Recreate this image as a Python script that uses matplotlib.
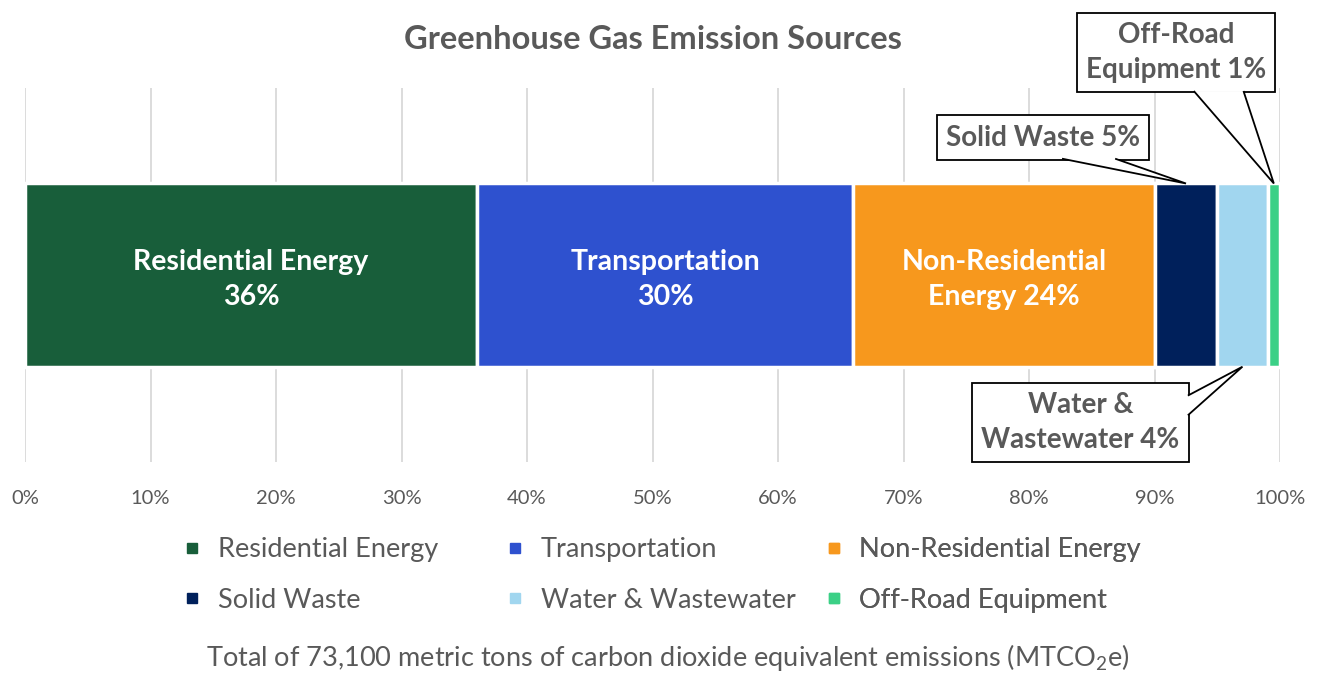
import matplotlib.pyplot as plt
from matplotlib.lines import Line2D
from matplotlib.patches import Polygon
from matplotlib.transforms import IdentityTransform

plt.rcParams['font.family'] = ['Lato', 'DejaVu Sans']
plt.rcParams['mathtext.fontset'] = 'custom'
plt.rcParams['mathtext.rm'] = 'Lato'

# emission share by source (%)
sources = ['Residential Energy', 'Transportation', 'Non-Residential Energy',
           'Solid Waste', 'Water & Wastewater', 'Off-Road Equipment']
shares = [36, 30, 24, 5, 4, 1]
colors = ['#185E3A', '#2E51CF', '#F7981D', '#00205B', '#A1D6EF', '#3BD086']
inside_labels = ['Residential Energy\n36%', 'Transportation\n30%', 'Non-Residential\nEnergy 24%']
callout_labels = ['Solid Waste 5%', 'Water &\nWastewater 4%', 'Off-Road\nEquipment 1%']
total_tons = '73,100'

gray = '#595959'

fig = plt.figure(figsize=(13.17, 6.73), dpi=100)
ax = fig.add_axes([0.019, 0.3135, 0.953, 0.5555])

left = 0
bars = []
for name, val, c in zip(sources, shares, colors):
    b = ax.barh(0, val, left=left, height=0.49, color=c, edgecolor='white',
                linewidth=2.5, label=name, zorder=3)
    bars.append(b[0])
    left += val

# labels inside the three big segments
for rect, txt in zip(bars[:3], inside_labels):
    ax.text(rect.get_x() + rect.get_width() / 2, -0.012, txt, ha='center', va='center',
            color='white', fontsize=20.5, fontweight='bold', linespacing=1.45, zorder=4)

# callout boxes for the small segments
# (segment, text, box centre, bar side pointed at, box side the wedge leaves from)
box = dict(boxstyle='square,pad=0.33', fc='white', ec='black', lw=1.3)
callouts = [(bars[3], callout_labels[0], (81.1, 0.368), 'top', 'bottom'),
            (bars[4], callout_labels[1], (84.1, -0.394), 'bottom', 'right'),
            (bars[5], callout_labels[2], (91.7, 0.595), 'top', 'bottom')]
texts = []
for rect, txt, pos, side, edge in callouts:
    t = ax.text(pos[0], pos[1], txt, ha='center', va='center', multialignment='center',
                fontsize=20, fontweight='bold', color=gray, bbox=box,
                linespacing=1.4, clip_on=False, zorder=6)
    texts.append(t)

ax.set_xlim(0, 100)
ax.set_ylim(-0.5, 0.5)
ax.set_xticks(range(0, 101, 10))
ax.set_xticklabels([f'{t}%' for t in range(0, 101, 10)])
ax.set_yticks([])
ax.tick_params(axis='x', length=0, labelsize=14.5, labelcolor=gray, pad=20)
ax.grid(axis='x', color='#D9D9D9', lw=1.3, zorder=0)
for s in ax.spines.values():
    s.set_visible(False)

ax.set_title('Greenhouse Gas Emission Sources', fontsize=23.5, fontweight='bold',
             color=gray, pad=28)

# wedge pointers: open triangle from the box edge to the segment, drawn over the box
fig.canvas.draw()
renderer = fig.canvas.get_renderer()
for (rect, txt, pos, side, edge), t in zip(callouts, texts):
    bb = t.get_bbox_patch().get_window_extent(renderer)
    yy = rect.get_y() + (rect.get_height() if side == 'top' else 0)
    tip = ax.transData.transform((rect.get_x() + rect.get_width() / 2, yy))
    if edge == 'bottom':
        b1 = (bb.x0 + 0.59 * bb.width, bb.y0 + 1)
        b2 = (bb.x0 + 0.84 * bb.width, bb.y0 + 1)
    else:
        b1 = (bb.x1 - 1, bb.y0 + 0.59 * bb.height)
        b2 = (bb.x1 - 1, bb.y0 + 0.84 * bb.height)
    wedge = Polygon([b1, tip, b2], closed=False, fc='white', ec='black', lw=1.3,
                    transform=IdentityTransform(), clip_on=False, zorder=7)
    ax.add_patch(wedge)

# legend: three columns, two rows
handles = [Line2D([], [], marker='s', ls='', color=c, markersize=7.5) for c in colors]
col_x = [0.1295, 0.3745, 0.6165]
for i, x in enumerate(col_x):
    idx = [i, i + 3]
    leg = ax.legend([handles[j] for j in idx], [sources[j] for j in idx],
                    loc='upper left', bbox_to_anchor=(x, 0.222),
                    bbox_transform=fig.transFigure, frameon=False, fontsize=19.5,
                    handlelength=0.6, handletextpad=0.65, labelspacing=0.95,
                    borderpad=0, labelcolor=gray)
    ax.add_artist(leg)

fig.text(0.507, 0.0, f'Total of {total_tons} metric tons of carbon dioxide equivalent '
         'emissions (MTCO$_2$e)', ha='center', va='bottom', fontsize=19.5, color=gray)

fig.savefig('out.png', dpi=100, facecolor='white')
